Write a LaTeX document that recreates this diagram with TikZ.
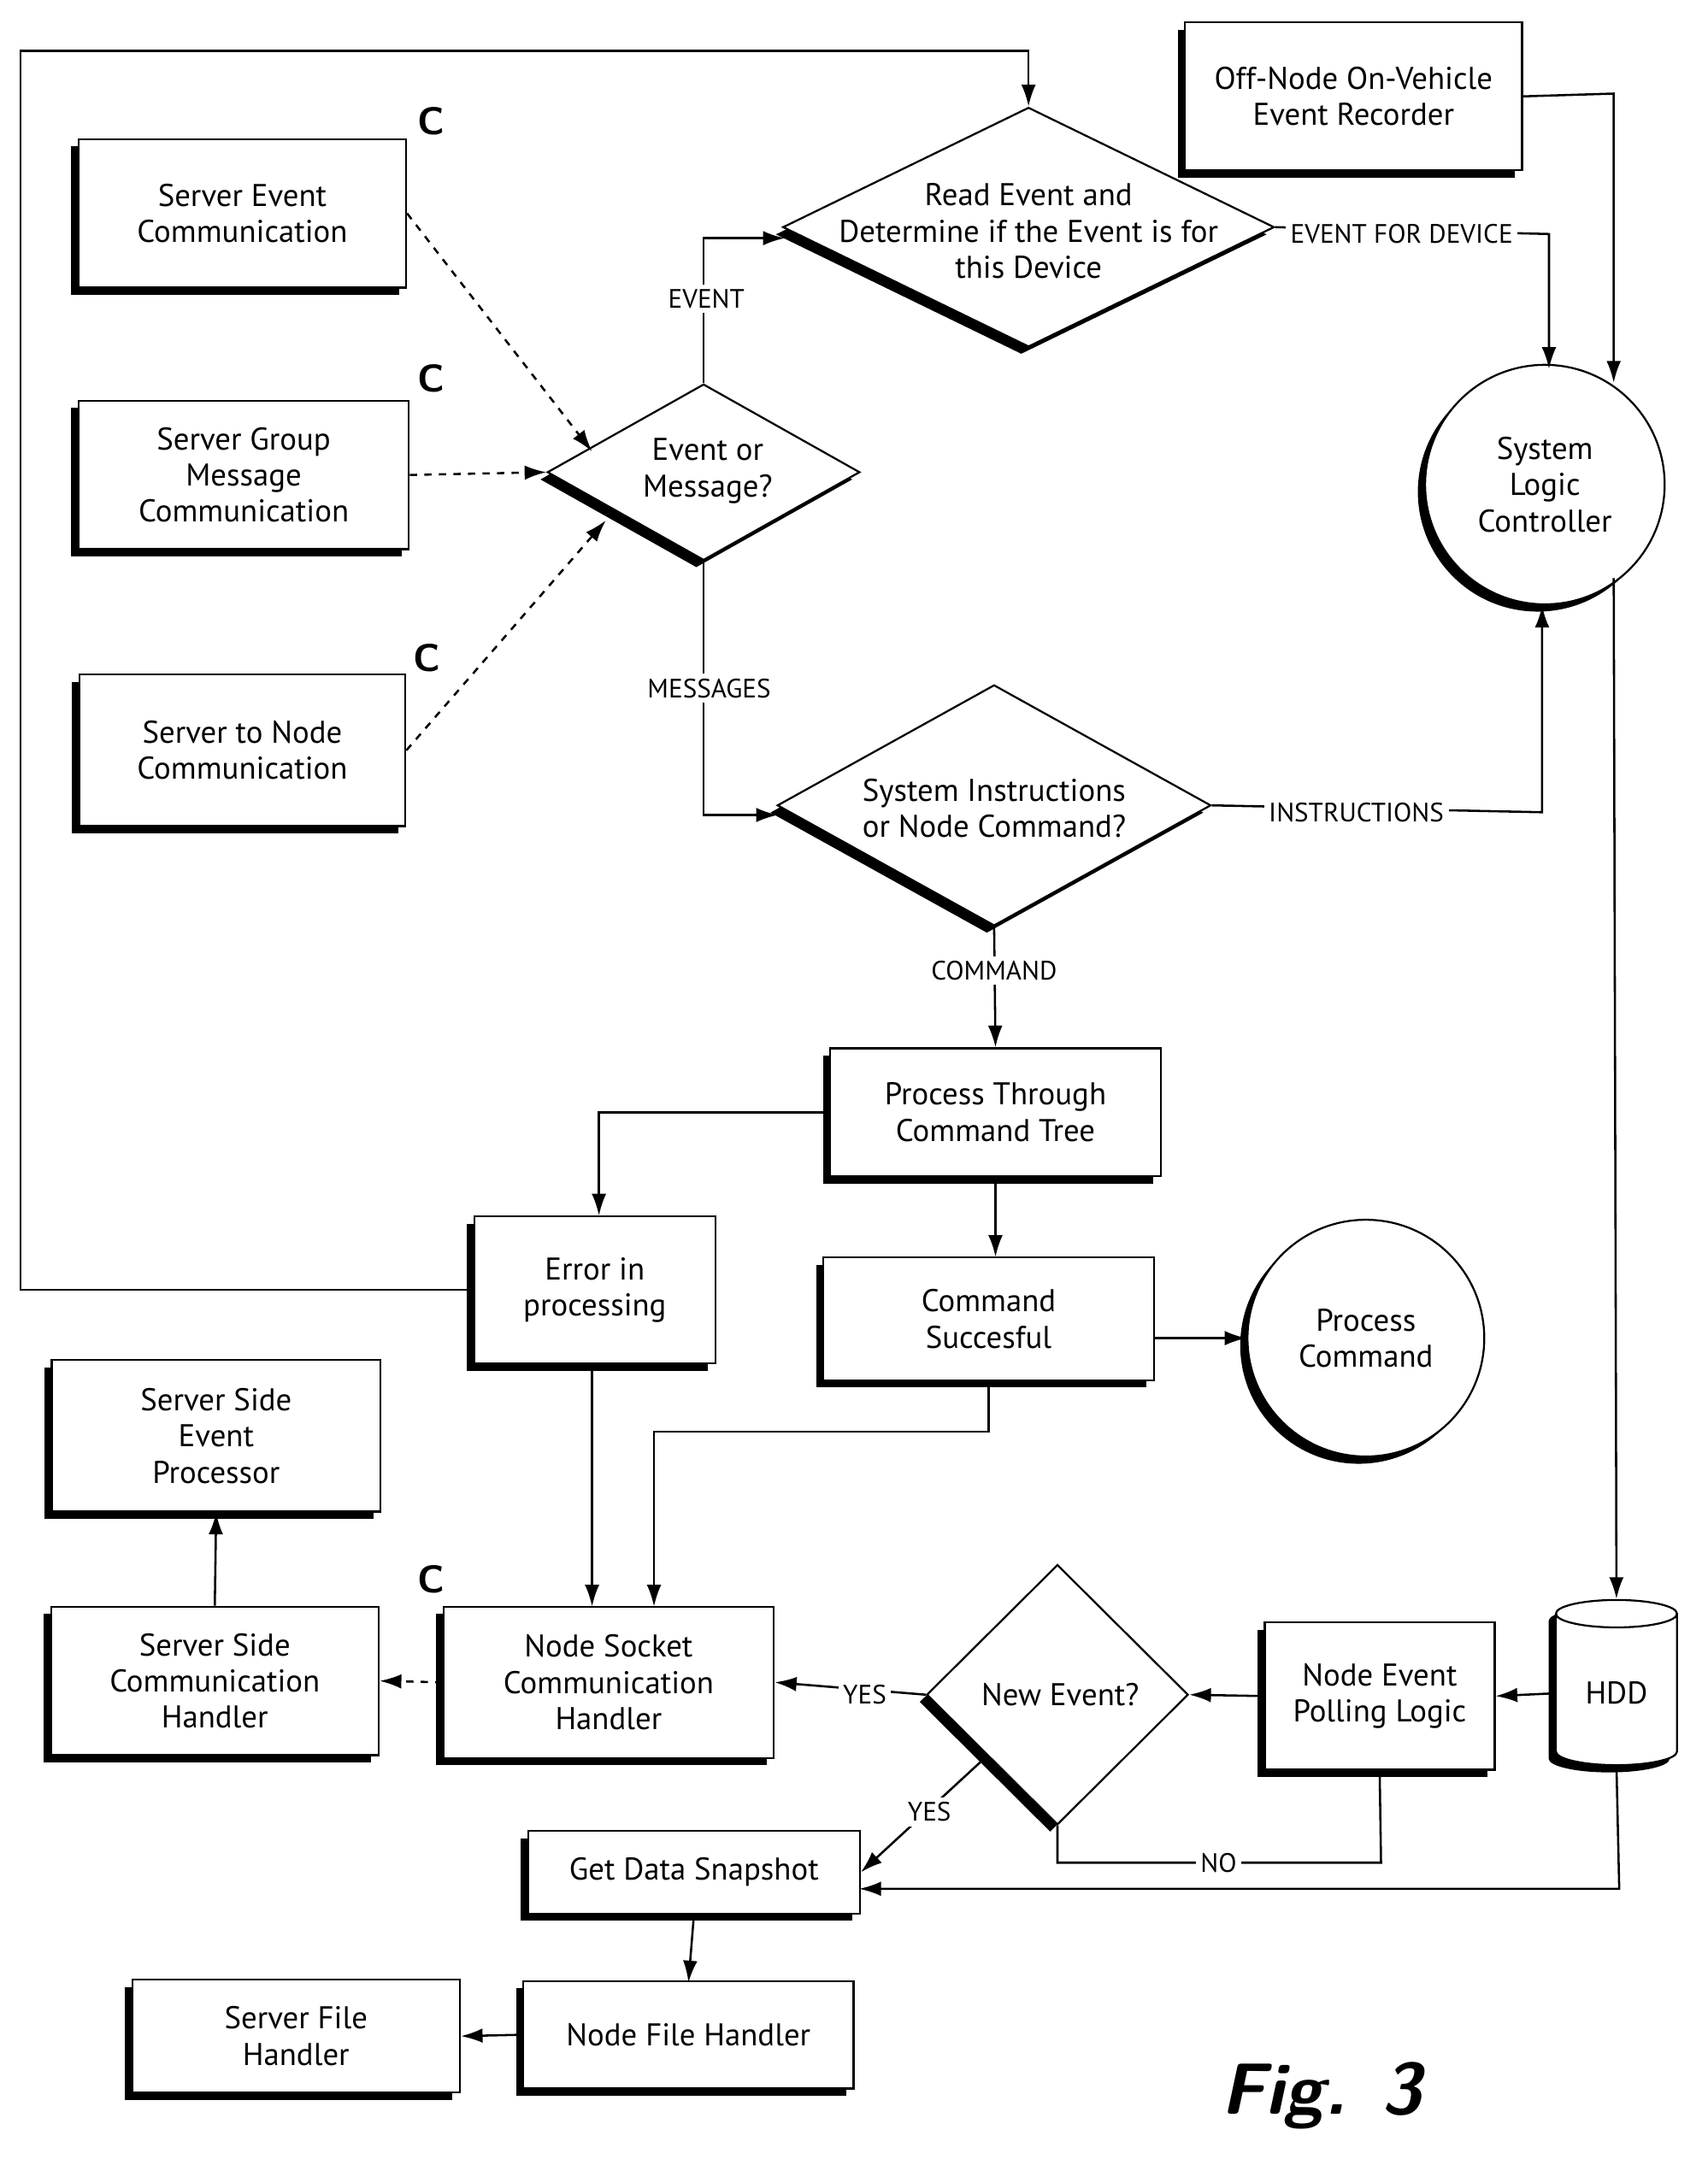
\documentclass[tikz,border=0pt]{standalone}
\usepackage{fontspec}
\setmainfont{PT Sans}
\usetikzlibrary{arrows.meta}
\usetikzlibrary{shapes.geometric}
\usetikzlibrary{shadows}
\tikzset{sh/.style = {drop shadow={shadow xshift=-3pt, shadow yshift=-3pt, fill=black, opacity=1}}}
\tikzset{box/.style = {draw, thick, fill=white, sh, align=center, font=\fontsize{13}{15}\selectfont}}
\tikzset{dia/.style = {draw, thick, fill=white, sh, diamond, inner sep=0}}
\tikzset{dtext/.style = {align=center, font=\fontsize{13}{15}\selectfont}}
\tikzset{rnd/.style = {draw, thick, fill=white, sh, circle, align=center, font=\fontsize{13}{15}\selectfont}}
\tikzset{lbl/.style = {fill=white, inner sep=2pt, font=\fontsize{11}{12}\selectfont}}
\tikzset{cmark/.style = {font=\sffamily\bfseries\fontsize{16}{16}\selectfont}}

\begin{document}
\begin{tikzpicture}[x=0.02cm, y=-0.02cm, >={Latex[length=9pt, width=6pt]}, line width=0.9pt]
      \useasboundingbox (0, 0) rectangle (1240, 1577);

      \node [box, minimum width=4.9cm, minimum height=2.15cm] (offnode) at (983, 70) {Off-Node On-Vehicle\\Event Recorder};
      \node [box, minimum width=4.76cm, minimum height=2.16cm] (srvevent) at (176, 155) {Server Event\\Communication};
      \node [box, minimum width=4.8cm, minimum height=2.16cm] (srvgroup) at (177, 345) {Server Group\\Message\\Communication};
      \node [box, minimum width=4.74cm, minimum height=2.2cm] (srvnode) at (176, 545) {Server to Node\\Communication};

      \node [cmark] (c1) at (313, 88) {C};
      \node [cmark] (c2) at (313, 275) {C};
      \node [cmark] (c3) at (310, 478) {C};
      \node [cmark] (c4) at (313, 1147) {C};

      \node [dia, minimum width=7.14cm, minimum height=3.48cm] (readev) at (747, 165) {};
      \node [dtext] (readevt) at (747, 168) {Read Event and\\Determine if the Event is for\\this Device};
      \node [dia, minimum width=4.54cm, minimum height=2.56cm] (evmsg) at (511, 343) {};
      \node [dtext] (evmsgt) at (514, 342) {Event or\\Message?};
      \node [rnd, minimum size=3.48cm] (slc) at (1122, 352) {System\\Logic\\Controller};
      \node [dia, minimum width=6.3cm, minimum height=3.5cm] (sysinst) at (722, 585) {};
      \node [dtext] (sysinstt) at (722, 587) {System Instructions\\or Node Command?};

      \node [box, minimum width=4.8cm, minimum height=1.86cm] (cmdtree) at (723, 808) {Process Through\\Command Tree};
      \node [box, minimum width=3.5cm, minimum height=2.14cm] (error) at (432, 937) {Error in\\processing};
      \node [box, minimum width=4.8cm, minimum height=1.78cm] (cmdok) at (718, 958) {Command\\Succesful};
      \node [rnd, minimum size=3.44cm] (proccmd) at (992, 972) {Process\\Command};

      \node [box, minimum width=4.78cm, minimum height=2.2cm] (ssevent) at (157, 1043) {Server Side\\Event\\Processor};
      \node [box, minimum width=4.76cm, minimum height=2.16cm] (sscomm) at (156, 1221) {Server Side\\Communication\\Handler};
      \node [box, minimum width=4.8cm, minimum height=2.2cm] (nodesock) at (442, 1222) {Node Socket\\Communication\\Handler};
      \node [dia, minimum width=3.8cm, minimum height=3.78cm] (newev) at (768, 1231) {};
      \node [dtext] (newevt) at (770, 1231) {New Event?};
      \node [box, minimum width=3.34cm, minimum height=2.14cm] (polling) at (1002, 1232) {Node Event\\Polling Logic};
      \node [draw, thick, fill=white, sh, cylinder, shape border rotate=90, aspect=0.35,
             minimum width=1.76cm, minimum height=2.4cm, font=\fontsize{13}{15}\selectfont] (hdd) at (1174, 1230) {HDD};

      \node [box, minimum width=4.82cm, minimum height=1.2cm] (snapshot) at (504, 1360) {Get Data Snapshot};
      \node [box, minimum width=4.8cm, minimum height=1.56cm] (nodefile) at (500, 1478) {Node File Handler};
      \node [box, minimum width=4.76cm, minimum height=1.64cm] (srvfile) at (215, 1479) {Server File\\Handler};

      \node [font=\sffamily\bfseries\itshape\fontsize{30}{30}\selectfont] (fig) at (960, 1522) {Fig. 3};

      % feedback loop from the error box
      \draw [->] (error.west) -- (15, 937) -- (15, 37) -- (747, 37) -- (readev.north);

      \draw [->, dashed] (srvevent.east) -- (430, 328);
      \draw [->, dashed] (srvgroup.east) -- (evmsg.west);
      \draw [->, dashed] (srvnode.east) -- (440, 378);

      \draw [->] (evmsg.north) -- (511, 173) -- (570, 173);
      \node [lbl] (lev) at (513, 217) {EVENT};
      \draw [->] (readev.east) -- (1125, 170) -- (1125, 268);
      \node [lbl] (lfor) at (1018, 170) {EVENT FOR DEVICE};
      \draw [->] (offnode.east) -- (1172, 68) -- (1172, 278);

      \draw [->] (evmsg.south) -- (511, 592) -- (565, 592);
      \node [lbl] (lmsg) at (515, 500) {MESSAGES};
      \draw [->] (sysinst.east) -- (1120, 590) -- (1120, 440);
      \node [lbl] (lins) at (985, 590) {INSTRUCTIONS};
      \draw [->] (sysinst.south) -- (cmdtree.north);
      \node [lbl] (lcmd) at (722, 705) {COMMAND};

      \draw [->] (cmdtree.west) -- (435, 808) -- (435, 883);
      \draw [->] (cmdtree.south) -- (723, 913);
      \draw [->] (838, 972) -- (proccmd.west);
      \draw [->] (cmdok.south) -- (718, 1040) -- (475, 1040) -- (475, 1167);
      \draw [->] (430, 990) -- (430, 1167);

      \draw [->] (sscomm.north) -- (ssevent.south);
      \draw [->, dashed] (nodesock.west) -- (sscomm.east);
      \draw [->] (newev.west) -- (nodesock.east);
      \node [lbl] (lyes1) at (628, 1231) {YES};
      \draw [->] (polling.west) -- (newev.east);
      \draw [->] (hdd.west) -- (polling.east);
      \draw [->] (1172, 420) -- (hdd.north);

      \draw [->] (712, 1280) -- (snapshot.east);
      \node [lbl] (lyes2) at (675, 1316) {YES};
      \draw (newev.south) -- (768, 1353) -- (1003, 1353) -- (polling.south);
      \node [lbl] (lno) at (885, 1353) {NO};
      \draw [->] (hdd.south) -- (1176, 1372) -- (624, 1372);

      \draw [->] (snapshot.south) -- (500, 1440);
      \draw [->] (nodefile.west) -- (srvfile.east);
\end{tikzpicture}
\end{document}
